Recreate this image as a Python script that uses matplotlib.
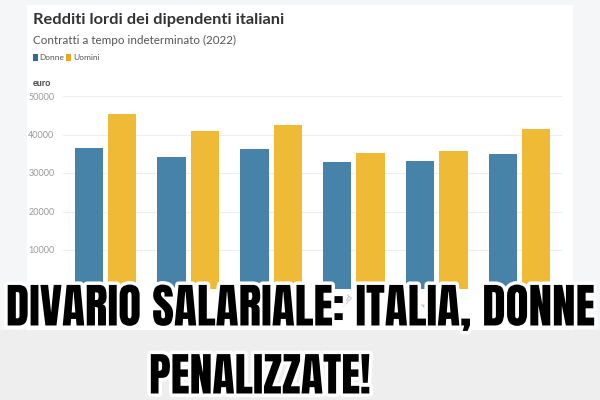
import matplotlib
matplotlib.use("Agg")
import matplotlib.pyplot as plt
import matplotlib.patheffects as pe
from matplotlib.patches import Rectangle
import numpy as np

# dati (euro, contratti a tempo indeterminato 2022)
categories = ["Nord-ovest", "Nord-est", "Centro", "Sud", "Isole", "Italia"]
donne = [36400, 34100, 36200, 32800, 33000, 35000]
uomini = [45300, 40900, 42500, 35100, 35700, 41400]
y_ticks = [10000, 20000, 30000, 40000, 50000]

BLUE = "#4783a8"
YELLOW = "#efbb37"
BIG_FONT = ["Anton", "Oswald", "Barlow Condensed", "DejaVu Sans"]

fig = plt.figure(figsize=(6, 4), dpi=100)
fig.patch.set_facecolor("#f4f6f8")

# card bianca del grafico
fig.patches.append(Rectangle((27 / 600, 1 - 330 / 400), 546 / 600, 325 / 400,
                             transform=fig.transFigure, facecolor="white",
                             edgecolor="none", zorder=-5))
# fascia grigia in basso
fig.patches.append(Rectangle((0, 0), 1, 70 / 400, transform=fig.transFigure,
                             facecolor="#eeeeee", edgecolor="none", zorder=-5))

ax = fig.add_axes([63 / 600, 1 - 288.5 / 400, 499 / 600, 192.5 / 400])
ax.set_zorder(2)
ax.set_facecolor("none")
x = np.arange(len(categories))
w = 0.34
ax.bar(x - 0.2, donne, w, color=BLUE, zorder=2)
ax.bar(x + 0.2, uomini, w, color=YELLOW, zorder=2)
ax.set_xlim(-0.51, 5.51)
ax.set_ylim(0, 50000)
ax.set_yticks(y_ticks)
ax.set_yticklabels([str(v) for v in y_ticks], fontsize=6.5, color="#999999",
                   family="Lato")
ax.tick_params(axis="y", length=0, pad=6)
ax.set_xticks(x)
ax.set_xticklabels(categories, rotation=45, ha="right", fontsize=6,
                   color="#aaaaaa", family="Lato")
ax.tick_params(axis="x", length=0, pad=3)
ax.grid(axis="y", color="#eeeeee", linewidth=0.8, zorder=0)
for s in ax.spines.values():
    s.set_visible(False)

# testi
fig.text(33 / 600, 1 - 20 / 400, "Redditi lordi dei dipendenti italiani",
         fontsize=11.8, fontweight="bold", color="#333333", family="Lato",
         va="center")
fig.text(33 / 600, 1 - 40 / 400, "Contratti a tempo indeterminato (2022)",
         fontsize=8.4, color="#555555", family="Lato", va="center")
fig.patches.append(Rectangle((33 / 600, 1 - 61 / 400), 5 / 600, 7 / 400,
                             transform=fig.transFigure, facecolor="#2f6b94"))
fig.text(39 / 600, 1 - 57.5 / 400, "Donne", fontsize=6, color="#555555",
         family="Lato", va="center")
fig.patches.append(Rectangle((66 / 600, 1 - 61 / 400), 5 / 600, 7 / 400,
                             transform=fig.transFigure, facecolor="#e8a91a"))
fig.text(73 / 600, 1 - 57.5 / 400, "Uomini", fontsize=6, color="#555555",
         family="Lato", va="center")
fig.text(33 / 600, 1 - 83 / 400, "euro", fontsize=6.5, fontweight="bold",
         color="#444444", family="Lato", va="center")

# scritta sovrapposta
stroke = [pe.withStroke(linewidth=5, foreground="white")]
fig.text(300 / 600, 1 - 308 / 400, "DIVARIO SALARIALE: ITALIA, DONNE",
         fontsize=34, family=BIG_FONT,
         color="black", va="center", ha="center", path_effects=stroke, zorder=10)
fig.text(260 / 600, 1 - 377 / 400, "PENALIZZATE!",
         fontsize=33, family=BIG_FONT,
         color="black", va="center", ha="center", path_effects=stroke, zorder=10)

fig.savefig("out.png", dpi=100, facecolor=fig.get_facecolor())
